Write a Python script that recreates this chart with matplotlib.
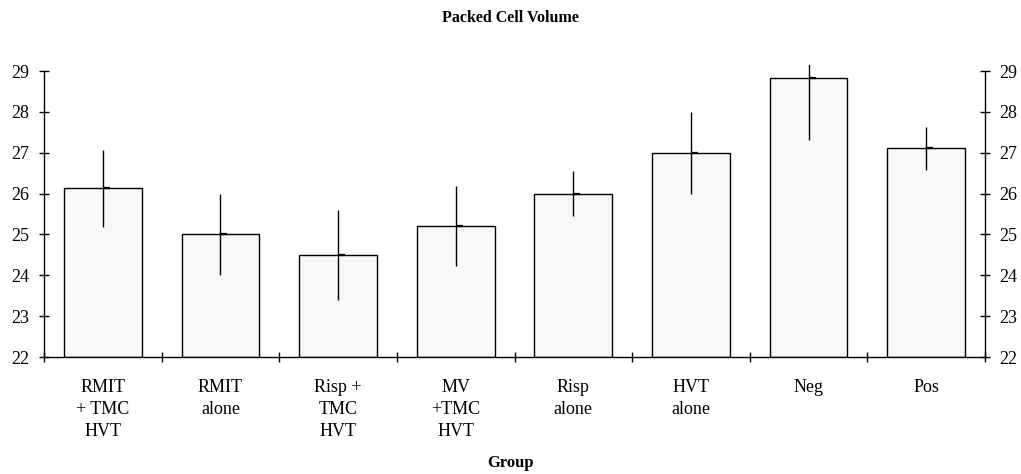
import matplotlib
matplotlib.use("Agg")
import matplotlib.pyplot as plt
from matplotlib.path import Path
import numpy as np

categories = ["RMIT\n+ TMC\nHVT", "RMIT\nalone", "Risp +\nTMC\nHVT", "MV\n+TMC\nHVT",
              "Risp\nalone", "HVT\nalone", "Neg", "Pos"]
values = [26.13, 25.0, 24.5, 25.2, 26.0, 27.0, 28.82, 27.11]
errors = [0.94, 1.0, 1.1, 0.98, 0.55, 1.0, 1.5, 0.52]
yticks = [22, 23, 24, 25, 26, 27, 28, 29]

plt.rcParams['font.family'] = ['Liberation Serif', 'DejaVu Serif']

fig = plt.figure(figsize=(10.21, 4.74), dpi=100)
ax = fig.add_axes([44/1021, 1-357/474, (985-44)/1021, (357-65)/474])

x = np.arange(len(categories)) + 0.5
ax.bar(x, [v - 22 for v in values], bottom=22, width=0.66, color="#f8f8f8",
       edgecolor="black", linewidth=1.0, zorder=2)
ax.errorbar(x, values, yerr=errors, fmt="none", ecolor="black", elinewidth=1.0,
            capsize=0, zorder=3)
dash = Path([(0, 0), (1, 0)], [Path.MOVETO, Path.LINETO])
ax.plot(x, values, linestyle="none", marker=dash, markersize=10, markeredgewidth=1.6,
        color="black", zorder=4)

ax.set_xlim(0, len(categories))
ax.set_ylim(22, 29.15)
ax.set_yticks(yticks)
ax.set_yticklabels([str(t) for t in yticks], fontsize=13)
ax.spines['top'].set_visible(False)
for s in ['left', 'right']:
    ax.spines[s].set_bounds(22, 29)
    ax.spines[s].set_linewidth(1.0)
ax.spines['bottom'].set_linewidth(1.0)
ax.tick_params(axis='y', direction='inout', length=7, width=1.0, left=True, right=True,
               labelleft=True, labelright=True, pad=7)

ax.set_xticks(x)
ax.set_xticklabels(categories, fontsize=13, linespacing=1.38, va='top')
ax.tick_params(axis='x', which='major', length=0, pad=16)
ax.set_xticks(np.arange(0, len(categories) + 1), minor=True)
ax.tick_params(axis='x', which='minor', direction='inout', length=7, width=1.0)

fig.text(0.5, 1-18/474, "Packed Cell Volume", ha='center', va='center',
         fontsize=11.5, fontweight='bold')
fig.text(0.5, 1-463/474, "Group", ha='center', va='center', fontsize=12, fontweight='bold')

fig.savefig("out.png", dpi=100)
